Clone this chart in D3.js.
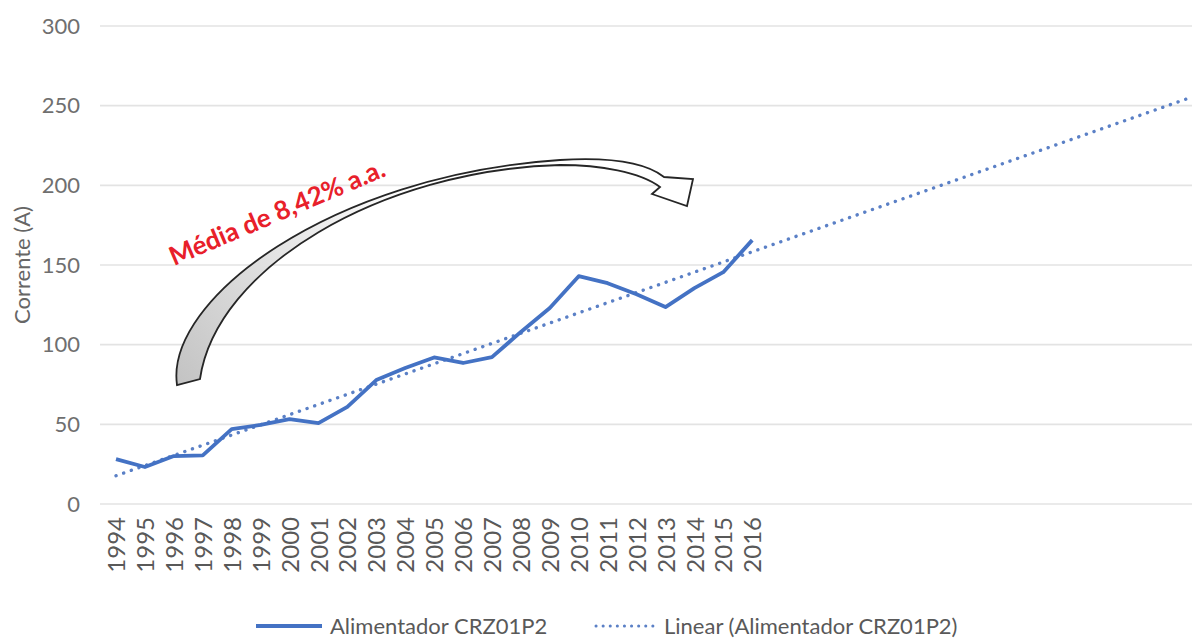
<!DOCTYPE html>
<html>
<head>
<meta charset="utf-8">
<script src="https://cdn.jsdelivr.net/npm/d3@7"></script>
<style>
  html, body { margin: 0; padding: 0; background: #fff; }
  svg { display: block; }
  text { font-family: Lato, "Open Sans", sans-serif; }
</style>
</head>
<body>
<svg id="chart" width="1192" height="638"></svg>
<script>
// Observed years and feeder current (A)
const years = [1994, 1995, 1996, 1997, 1998, 1999, 2000, 2001, 2002, 2003, 2004, 2005,
               2006, 2007, 2008, 2009, 2010, 2011, 2012, 2013, 2014, 2015, 2016];
const current = [28.2, 23.2, 30.1, 30.5, 47.0, 49.6, 53.3, 50.8, 61.0, 77.8, 85.3, 92.0,
                 88.5, 92.2, 108.0, 123.0, 143.0, 138.6, 131.7, 123.6, 135.5, 145.5, 165.6];
// Trend line is projected forward this many periods
const forecastYears = 15;
const yTicks = [0, 50, 100, 150, 200, 250, 300];
const seriesName = "Alimentador CRZ01P2";
const trendName = "Linear (Alimentador CRZ01P2)";
const yTitle = "Corrente (A)";
const noteText = "Média de 8,42% a.a.";

const W = 1192, H = 638;
const blue = "#4472c4";
const grey = "#595959";
const fs = 22;

const svg = d3.select("#chart");

// Category axis spans observed years plus the forecast horizon
const lastYear = years[years.length - 1] + forecastYears;
const allYears = d3.range(years[0], lastYear + 1);

const x = d3.scalePoint().domain(allYears).range([116, 1186]);
const y = d3.scaleLinear().domain([0, 300]).range([504, 26]);

// Horizontal gridlines
svg.append("g").selectAll("line")
  .data(yTicks)
  .join("line")
  .attr("x1", 100).attr("x2", W)
  .attr("y1", d => y(d)).attr("y2", d => y(d))
  .attr("stroke", "#e3e3e3").attr("stroke-width", 1.6);

// Y axis (labels only)
const yAxis = d3.axisLeft(y).tickValues(yTicks).tickSize(0).tickPadding(0);
const gy = svg.append("g").attr("transform", "translate(80,0)").call(yAxis);
gy.select(".domain").remove();
gy.selectAll("text")
  .attr("fill", "#6f6f6f").attr("font-size", fs)
  .attr("font-family", "Lato, sans-serif");

// X axis labels (observed years only), rotated
const xAxis = d3.axisBottom(x).tickValues(years).tickSize(0).tickPadding(0);
const gx = svg.append("g").attr("transform", "translate(0,517)").call(xAxis);
gx.select(".domain").remove();
gx.selectAll("text")
  .attr("fill", grey).attr("font-size", 24)
  .attr("font-family", "Lato, sans-serif")
  .attr("text-anchor", "end")
  .attr("dy", "0.36em")
  .attr("transform", "rotate(-90)")
  .attr("x", 0).attr("y", 0);

// Y title
svg.append("text")
  .attr("transform", `translate(30,${y(150)}) rotate(-90)`)
  .attr("text-anchor", "middle")
  .attr("fill", "#666666").attr("font-size", fs)
  .text(yTitle);

// Least-squares linear trend over the observed points
const idx = years.map((d, i) => i);
const mx = d3.mean(idx), my = d3.mean(current);
const sxy = d3.sum(idx, i => (i - mx) * (current[i] - my));
const sxx = d3.sum(idx, i => (i - mx) * (i - mx));
const slope = sxy / sxx;
const intercept = my - slope * mx;
const trendPts = [0, allYears.length - 1].map(i => ({ year: allYears[i], v: intercept + slope * i }));

const line = d3.line().x(d => x(d.year)).y(d => y(d.v));

svg.append("path")
  .datum(trendPts)
  .attr("d", line)
  .attr("fill", "none")
  .attr("stroke", "#5b80c6")
  .attr("stroke-width", 3.4)
  .attr("stroke-linecap", "round")
  .attr("stroke-dasharray", "0.1 8");

svg.append("path")
  .datum(years.map((yr, i) => ({ year: yr, v: current[i] })))
  .attr("d", line)
  .attr("fill", "none")
  .attr("stroke", blue)
  .attr("stroke-width", 3.8)
  .attr("stroke-linejoin", "round");

// Curved block arrow annotation
const defs = svg.append("defs");
const grad = defs.append("linearGradient")
  .attr("id", "arrowFill")
  .attr("gradientUnits", "userSpaceOnUse")
  .attr("x1", 185).attr("y1", 385).attr("x2", 420).attr("y2", 190);
grad.append("stop").attr("offset", 0).attr("stop-color", "#c4c4c4");
grad.append("stop").attr("offset", 0.55).attr("stop-color", "#e6e6e6");
grad.append("stop").attr("offset", 1).attr("stop-color", "#ffffff");

const arrowPath = [
  "M177,385",
  "C165,300 330,175 560,160",
  "C610,157 645,162 664,177",
  "L693,179",
  "L687,206",
  "L652,194",
  "L660,187",
  "C640,172 600,165 560,165",
  "C380,170 216,268 200,379",
  "Z"
].join(" ");

svg.append("path")
  .attr("d", arrowPath)
  .attr("fill", "url(#arrowFill)")
  .attr("stroke", "#262626")
  .attr("stroke-width", 1.8)
  .attr("stroke-linejoin", "miter");

// Growth-rate note
svg.append("text")
  .attr("transform", "translate(174,266) rotate(-23)")
  .attr("fill", "#e8202a")
  .attr("font-weight", "bold")
  .attr("font-size", 26)
  .text(noteText);

// Legend
const ly = 626;
svg.append("line")
  .attr("x1", 256).attr("x2", 322).attr("y1", ly).attr("y2", ly)
  .attr("stroke", blue).attr("stroke-width", 3.8);
svg.append("text")
  .attr("x", 330).attr("y", ly).attr("dy", "0.35em")
  .attr("fill", grey).attr("font-size", fs)
  .text(seriesName);
svg.append("line")
  .attr("x1", 596).attr("x2", 656).attr("y1", ly).attr("y2", ly)
  .attr("stroke", "#5b80c6").attr("stroke-width", 3)
  .attr("stroke-linecap", "round")
  .attr("stroke-dasharray", "0.1 7");
svg.append("text")
  .attr("x", 664).attr("y", ly).attr("dy", "0.35em")
  .attr("fill", grey).attr("font-size", fs)
  .text(trendName);
</script>
</body>
</html>
